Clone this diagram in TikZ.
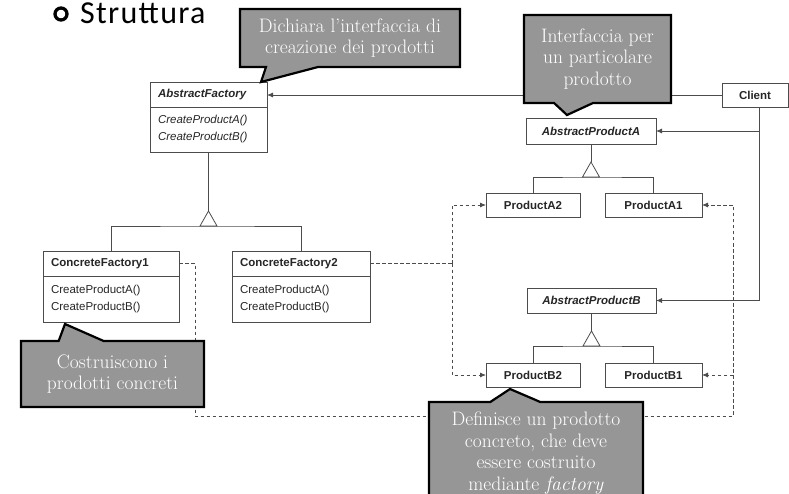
\documentclass[tikz,border=0pt]{standalone}
\usepackage{fontspec}
\newfontfamily\umlfont{Liberation Sans}
\newfontfamily\titlefont[LetterSpace=4]{Carlito}
\usetikzlibrary{arrows.meta,shapes.callouts}
\definecolor{notegray}{RGB}{150,150,150}

\begin{document}
\begin{tikzpicture}
  [x=1pt,y=-1pt,
   uml/.style={draw=black!70,line width=.8pt},
   hdr/.style={uml,rectangle,anchor=north west,outer sep=0pt,inner xsep=8pt,inner ysep=0pt,
     minimum height=25pt,align=left,text=black!85,font=\umlfont\fontsize{11.5}{17}\selectfont\bfseries},
   meth/.style={hdr,font=\umlfont\fontsize{11.5}{17}\selectfont},
   box/.style={hdr,inner xsep=0pt,align=center,minimum height=24pt},
   assoc/.style={uml,-{Latex[length=6pt,width=5pt]}},
   dep/.style={assoc,dash pattern=on 3.5pt off 2.5pt},
   note/.style={rectangle callout,draw=black,line width=2.2pt,fill=notegray,text=white,
     align=center,inner sep=0pt,font=\fontsize{19.5}{21.5}\selectfont}]
  \useasboundingbox (0,0) rectangle (789,494);

  \node[circle,draw,line width=3.3pt,minimum size=12pt,inner sep=0pt] (bullet) at (61,14) {};
  \node[anchor=base west,inner sep=0pt,font=\titlefont\fontsize{32}{32}\selectfont] (title) at (80,23.5) {Struttura};

  \node[hdr,text width=101pt] (af) at (150,82) {\itshape AbstractFactory};
  \node[meth,text width=101pt,minimum height=45pt] (afm) at (af.south west) {\textit{CreateProductA()}\\\textit{CreateProductB()}};
  \node[hdr,text width=120pt] (cf1) at (43,251) {ConcreteFactory1};
  \node[meth,text width=120pt,minimum height=46pt] (cf1m) at (cf1.south west) {CreateProductA()\\CreateProductB()};
  \node[hdr,text width=122pt] (cf2) at (232,251) {ConcreteFactory2};
  \node[meth,text width=122pt,minimum height=46pt] (cf2m) at (cf2.south west) {CreateProductA()\\CreateProductB()};

  \node[box,minimum width=66pt] (client) at (722,83) {Client};
  \node[box,minimum width=130pt,minimum height=26pt] (apa) at (526,118) {\itshape AbstractProductA};
  \node[box,minimum width=94pt] (pa2) at (486,193) {ProductA2};
  \node[box,minimum width=97pt] (pa1) at (605,193) {ProductA1};
  \node[box,minimum width=129pt,minimum height=25pt] (apb) at (527,288) {\itshape AbstractProductB};
  \node[box,minimum width=94pt] (pb2) at (486,363) {ProductB2};
  \node[box,minimum width=97pt] (pb1) at (605,363) {ProductB1};

  \foreach \pa/\ca/\cb/\y in {afm/cf1/cf2/226,apa/pa2/pa1/177,apb/pb2/pb1/346}{
    \coordinate (base) at (\pa.south |- 0,\y);
    \draw[uml] (\pa.south) -- ([yshift=15pt]base);
    \draw[uml] ([yshift=15pt]base) -- ([xshift=-8.5pt]base) -- ([xshift=8.5pt]base) -- cycle;
    \draw[uml] (\ca.north) |- (base) -| (\cb.north);
  }

  \coordinate (cl) at (759,0);
  \draw[assoc] (client.west) -- (client.west -| af.east);
  \draw[assoc] (client.south -| cl) |- (apb.east);
  \draw[assoc] (cl |- apa.east) -- (apa.east);

  \coordinate (dl) at (195,416);
  \coordinate (dr) at (733,416);
  \coordinate (dm) at (452,0);
  \draw[dep] (cf1.east) -| (dl) -- (dr) |- (pa1.east);
  \draw[dep] (dr |- pb1.east) -- (pb1.east);
  \draw[uml,dash pattern=on 3.5pt off 2.5pt] (cf2.east) -- (cf2.east -| dm);
  \draw[dep] (cf2.east -| dm) |- (pa2.west);
  \draw[dep] (cf2.east -| dm) |- (pb2.west);

  \node[note,minimum width=220pt,minimum height=58pt,callout pointer width=52pt,
    callout absolute pointer={([xshift=-6pt]af.north east)}] (n1) at (350,38)
    {Dichiara l’interfaccia di\\creazione dei prodotti};
  \node[note,minimum width=147pt,minimum height=88pt,callout pointer width=39pt,
    callout absolute pointer={([xshift=-24pt,yshift=3pt]apa.north)}] (n2) at (597.5,59)
    {Interfaccia per\\un particolare\\prodotto};
  \node[note,minimum width=183pt,minimum height=66pt,callout pointer width=45pt,
    callout absolute pointer={([xshift=22pt,yshift=-2pt]cf1m.south west)}] (n3) at (112.5,374)
    {Costruiscono i\\prodotti concreti};
  \node[note,minimum width=214pt,minimum height=102pt,callout pointer width=50pt,
    callout absolute pointer={([xshift=-23pt,yshift=-2pt]pb2.south)}] (n4) at (536,453)
    {Definisce un prodotto\\concreto, che deve\\essere costruito\\mediante \textit{factory}};
\end{tikzpicture}
\end{document}
